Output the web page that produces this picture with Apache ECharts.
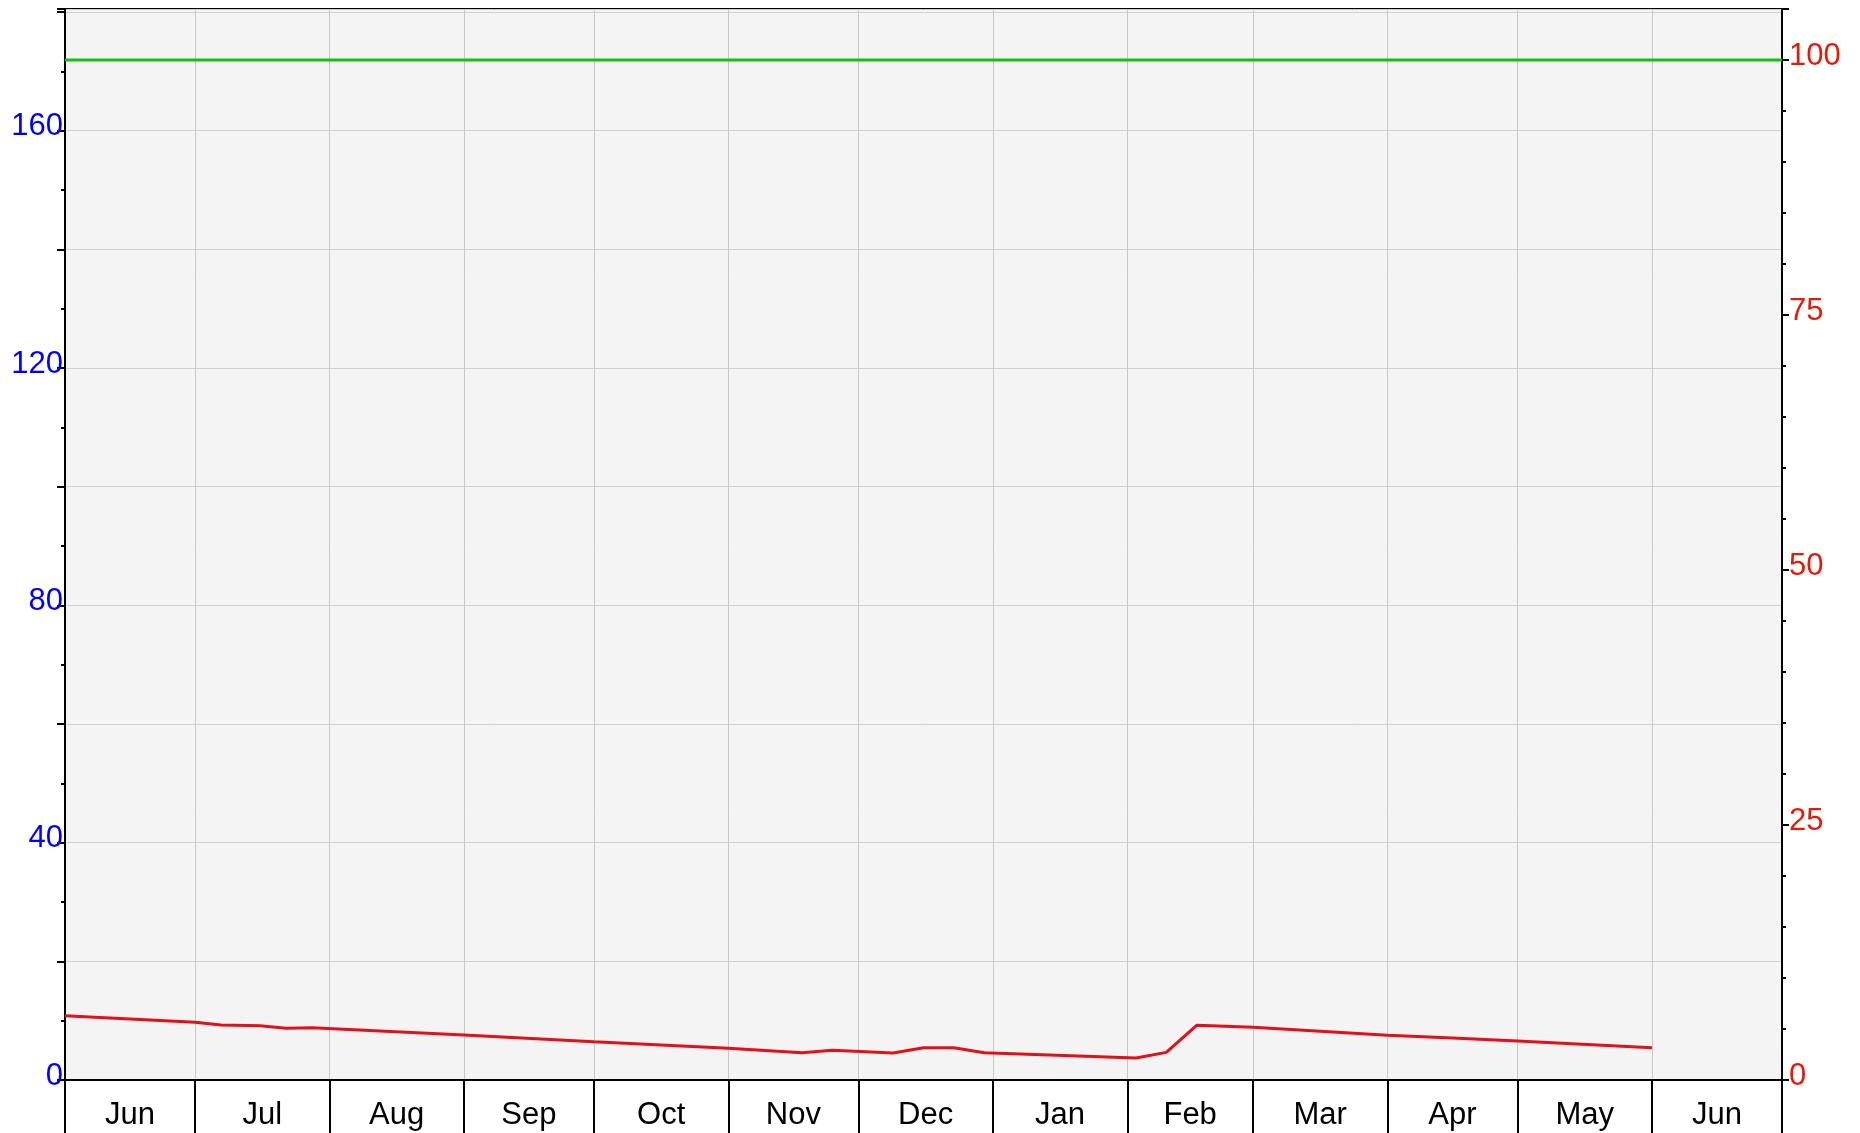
<!DOCTYPE html>
<html>
<head>
<meta charset="utf-8">
<title>chart</title>
<script src="https://cdn.jsdelivr.net/npm/echarts@6/dist/echarts.min.js"></script>
<style>
  html, body { margin: 0; padding: 0; background: #fff; }
  #main { width: 1860px; height: 1133px; }
</style>
</head>
<body>
<div id="main"></div>
<script>
  // red line, right axis (%)
  var lineDates = [
    '2023-06-01', '2023-07-01', '2023-07-07', '2023-07-16', '2023-07-22', '2023-07-28',
    '2023-09-01', '2023-10-01', '2023-11-01', '2023-11-18', '2023-11-25', '2023-12-09',
    '2023-12-16', '2023-12-23', '2023-12-30', '2024-02-03', '2024-02-10', '2024-02-17',
    '2024-03-01', '2024-04-01', '2024-04-16', '2024-05-01', '2024-06-01'
  ];
  var lineValues = [
    6.30, 5.66, 5.39, 5.32, 5.07, 5.13,
    4.41, 3.76, 3.11, 2.68, 2.91, 2.65,
    3.17, 3.17, 2.68, 2.16, 2.71, 5.36,
    5.16, 4.38, 4.12, 3.82, 3.17
  ];
  // green line (100)
  var targetDates = ['2023-06-01', '2024-07-01'];
  var targetValues = [100, 100];

  // month boundaries and names
  var monthStarts = [
    '2023-06-01', '2023-07-01', '2023-08-01', '2023-09-01', '2023-10-01', '2023-11-01', '2023-12-01',
    '2024-01-01', '2024-02-01', '2024-03-01', '2024-04-01', '2024-05-01', '2024-06-01', '2024-07-01'
  ];
  var monthLabels = ['Jun', 'Jul', 'Aug', 'Sep', 'Oct', 'Nov', 'Dec', 'Jan', 'Feb', 'Mar', 'Apr', 'May', 'Jun'];
  var leftLabels = [0, 40, 80, 120, 160];
  var rightLabels = [0, 25, 50, 75, 100];

  // days since the first month start (x axis is a value axis in days)
  function toDay(s) {
    var p = s.split('-');
    var p0 = monthStarts[0].split('-');
    var t = Date.UTC(+p[0], +p[1] - 1, +p[2]);
    var t0 = Date.UTC(+p0[0], +p0[1] - 1, +p0[2]);
    return Math.round((t - t0) / 86400000);
  }

  var tickDays = monthStarts.map(toDay);
  var labelDays = [];
  for (var i = 0; i < tickDays.length - 1; i++) {
    labelDays.push((tickDays[i] + tickDays[i + 1]) / 2);
  }

  var lineData = lineDates.map(function (d, i) { return [toDay(d), lineValues[i]]; });
  var targetData = targetDates.map(function (d, i) { return [toDay(d), targetValues[i]]; });

  var font = 'Liberation Sans, Arial, sans-serif';
  var myChart = echarts.init(document.getElementById('main'));

  myChart.setOption({
    animation: false,
    grid: {
      left: 65,
      right: 78,
      top: 9,
      bottom: 53,
      show: true,
      backgroundColor: '#f4f4f4',
      borderColor: '#000',
      borderWidth: 2,
      containLabel: false,
      outerBoundsMode: 'none'
    },
    xAxis: {
      type: 'value',
      min: tickDays[0],
      max: tickDays[tickDays.length - 1],
      axisLine: { lineStyle: { color: '#000', width: 2 } },
      axisTick: {
        customValues: tickDays,
        length: 56,
        lineStyle: { color: '#000', width: 2 }
      },
      splitLine: { show: true, lineStyle: { color: '#c8c8c8', width: 1 } },
      axisLabel: {
        customValues: labelDays,
        margin: 20,
        color: '#000',
        fontSize: 31,
        fontFamily: font,
        formatter: function (v) {
          var idx = labelDays.indexOf(v);
          return idx >= 0 ? monthLabels[idx] : '';
        }
      }
    },
    yAxis: [
      {
        // left axis
        type: 'value',
        min: 0,
        max: 180.5,
        interval: 20,
        position: 'left',
        axisLine: { show: true, lineStyle: { color: '#000', width: 2 } },
        axisTick: { show: true, length: 8, lineStyle: { color: '#000', width: 2 } },
        minorTick: { show: true, splitNumber: 2, length: 4, lineStyle: { color: '#000', width: 2 } },
        splitLine: { show: true, lineStyle: { color: '#d0d0d0', width: 1 } },
        axisLabel: {
          margin: 2,
          color: '#0000ff',
          fontSize: 31,
          fontFamily: font,
          verticalAlign: 'bottom',
          lineHeight: 8,
          formatter: function (v) {
            return leftLabels.indexOf(v) >= 0 ? String(v) : '';
          }
        }
      },
      {
        // right axis
        type: 'value',
        min: 0,
        max: 105,
        interval: 25,
        position: 'right',
        axisLine: { show: true, lineStyle: { color: '#000', width: 2 } },
        axisTick: { show: true, length: 7, lineStyle: { color: '#000', width: 2 } },
        minorTick: { show: true, splitNumber: 5, length: 4, lineStyle: { color: '#000', width: 2 } },
        splitLine: { show: false },
        axisLabel: {
          margin: 7,
          color: '#e41a0a',
          fontSize: 31,
          fontFamily: font,
          verticalAlign: 'bottom',
          lineHeight: 8,
          formatter: function (v) {
            return rightLabels.indexOf(v) >= 0 ? String(v) : '';
          }
        }
      }
    ],
    series: [
      {
        name: 'target',
        type: 'line',
        yAxisIndex: 1,
        data: targetData,
        symbol: 'none',
        lineStyle: { color: '#14c014', width: 3 }
      },
      {
        name: 'value',
        type: 'line',
        yAxisIndex: 1,
        data: lineData,
        symbol: 'none',
        lineStyle: { color: '#e2101a', width: 3 }
      }
    ]
  });
</script>
</body>
</html>
